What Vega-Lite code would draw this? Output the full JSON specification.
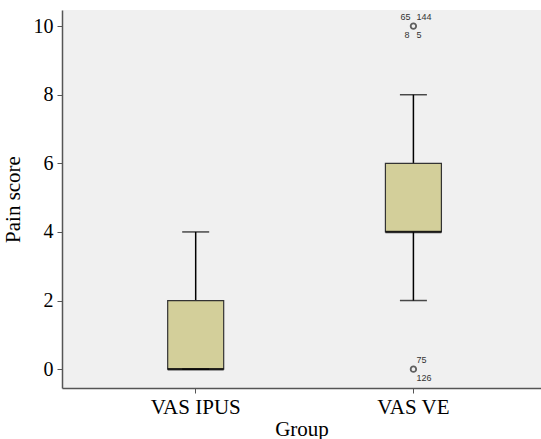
{
  "$schema": "https://vega.github.io/schema/vega-lite/v6.json",
  "width": 479,
  "height": 378,
  "autosize": {"type": "none"},
  "padding": {"left": 62, "top": 10, "right": 0, "bottom": 51},
  "background": "white",
  "config": {
    "view": {"fill": "#F0F0F0", "stroke": null},
    "axis": {
      "labelFont": "Liberation Serif",
      "titleFont": "Liberation Serif",
      "labelFontSize": 20,
      "titleFontSize": 21,
      "labelColor": "black",
      "titleColor": "black",
      "titleFontWeight": "normal",
      "domainColor": "#555555",
      "domainWidth": 1.5,
      "tickColor": "#555555",
      "tickSize": 5,
      "tickWidth": 1,
      "grid": false
    }
  },
  "datasets": {
    "boxes": [
      {"group": "VAS IPUS", "lower": 0, "q1": 0, "median": 0, "q3": 2, "upper": 4},
      {"group": "VAS VE", "lower": 2, "q1": 4, "median": 4, "q3": 6, "upper": 8}
    ],
    "outliers": [
      {"group": "VAS VE", "value": 10, "left_above": "65", "right_above": "144", "left_below": "8", "right_below": "5"},
      {"group": "VAS VE", "value": 0, "left_above": "", "right_above": "75", "left_below": "", "right_below": "126"}
    ]
  },
  "encoding": {
    "x": {
      "field": "group",
      "type": "nominal",
      "title": "Group",
      "scale": {"domain": ["VAS IPUS", "VAS VE"], "paddingInner": 0, "paddingOuter": 0.1, "align": 0.57},
      "axis": {"labelAngle": 0, "labelPadding": 3, "titlePadding": 1, "labelFontSize": 21}
    }
  },
  "layer": [
    {
      "data": {"name": "boxes"},
      "mark": {"type": "rule", "color": "black", "strokeWidth": 1.5},
      "encoding": {
        "y": {
          "field": "lower",
          "type": "quantitative",
          "title": "Pain score",
          "scale": {"domain": [-0.55, 10.47], "nice": false, "zero": false},
          "axis": {"values": [0, 2, 4, 6, 8, 10], "labelPadding": 4, "titlePadding": 10}
        },
        "y2": {"field": "upper"}
      }
    },
    {
      "data": {"name": "boxes"},
      "mark": {"type": "bar", "size": 56, "fill": "#D3CF9A", "stroke": "#333333", "strokeWidth": 1.2},
      "encoding": {
        "y": {"field": "q1", "type": "quantitative"},
        "y2": {"field": "q3"}
      }
    },
    {
      "data": {"name": "boxes"},
      "mark": {"type": "tick", "size": 56, "thickness": 2.5, "color": "black"},
      "encoding": {"y": {"field": "median", "type": "quantitative"}}
    },
    {
      "data": {"name": "boxes"},
      "mark": {"type": "tick", "size": 27, "thickness": 1.5, "color": "black"},
      "encoding": {"y": {"field": "upper", "type": "quantitative"}}
    },
    {
      "data": {"name": "boxes"},
      "mark": {"type": "tick", "size": 27, "thickness": 1.5, "color": "black"},
      "encoding": {"y": {"field": "lower", "type": "quantitative"}}
    },
    {
      "data": {"name": "outliers"},
      "mark": {"type": "point", "shape": "circle", "size": 30, "filled": false, "stroke": "#222222", "strokeWidth": 1.8},
      "encoding": {"y": {"field": "value", "type": "quantitative"}}
    },
    {
      "data": {"name": "outliers"},
      "mark": {"type": "text", "font": "Liberation Sans", "fontSize": 9, "color": "#333333", "align": "right", "baseline": "middle", "dx": -3, "dy": -9},
      "encoding": {"y": {"field": "value", "type": "quantitative"}, "text": {"field": "left_above"}}
    },
    {
      "data": {"name": "outliers"},
      "mark": {"type": "text", "font": "Liberation Sans", "fontSize": 9, "color": "#333333", "align": "left", "baseline": "middle", "dx": 3, "dy": -9},
      "encoding": {"y": {"field": "value", "type": "quantitative"}, "text": {"field": "right_above"}}
    },
    {
      "data": {"name": "outliers"},
      "mark": {"type": "text", "font": "Liberation Sans", "fontSize": 9, "color": "#333333", "align": "right", "baseline": "middle", "dx": -4, "dy": 9},
      "encoding": {"y": {"field": "value", "type": "quantitative"}, "text": {"field": "left_below"}}
    },
    {
      "data": {"name": "outliers"},
      "mark": {"type": "text", "font": "Liberation Sans", "fontSize": 9, "color": "#333333", "align": "left", "baseline": "middle", "dx": 3, "dy": 9},
      "encoding": {"y": {"field": "value", "type": "quantitative"}, "text": {"field": "right_below"}}
    }
  ]
}
